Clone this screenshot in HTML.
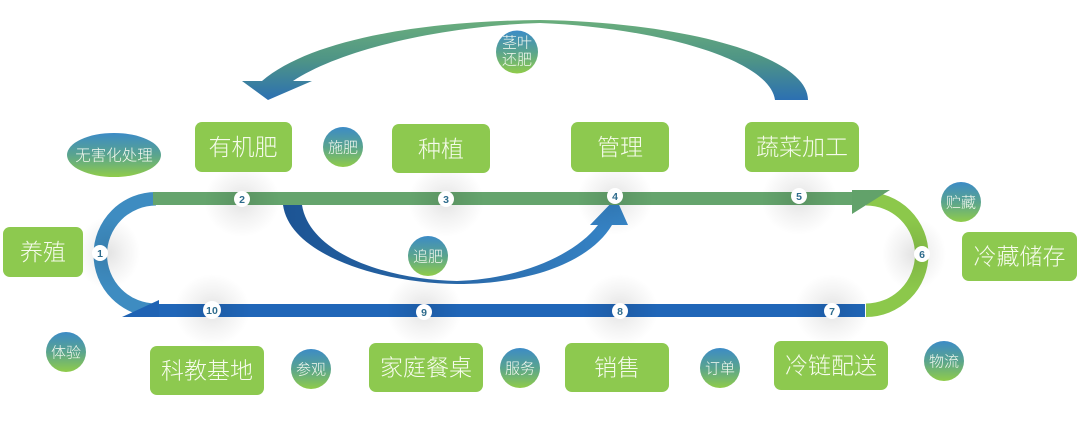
<!DOCTYPE html>
<html>
<head>
<meta charset="utf-8">
<style>
  html,body{margin:0;padding:0;background:#fff;}
  svg{display:block;}
  .bx{fill:#8dc94f;}
  .bt{fill:#f6fbec;font-family:"Liberation Sans","Noto Sans CJK SC",sans-serif;font-size:23px;font-weight:300;}
  .ct{fill:#f4f9f0;font-family:"Liberation Sans","Noto Sans CJK SC",sans-serif;font-size:15px;font-weight:300;}
  .nt{fill:#2d6b8c;font-family:"Liberation Sans",sans-serif;font-size:10.5px;font-weight:bold;}
</style>
</head>
<body>
<svg width="1080" height="439" viewBox="0 0 1080 439" xmlns="http://www.w3.org/2000/svg">
  <defs>
    <linearGradient id="cg" x1="0" y1="0" x2="0" y2="1">
      <stop offset="0" stop-color="#3c8bc6"/>
      <stop offset="0.5" stop-color="#5aa48e"/>
      <stop offset="1" stop-color="#90cc4a"/>
    </linearGradient>
    <linearGradient id="topArc" gradientUnits="userSpaceOnUse" x1="0" y1="20" x2="0" y2="100">
      <stop offset="0" stop-color="#6aae7c"/>
      <stop offset="0.5" stop-color="#4e9486"/>
      <stop offset="1" stop-color="#2c70b2"/>
    </linearGradient>
    <linearGradient id="inArc" gradientUnits="userSpaceOnUse" x1="283" y1="0" x2="628" y2="0">
      <stop offset="0" stop-color="#1c5494"/>
      <stop offset="0.5" stop-color="#2968a8"/>
      <stop offset="1" stop-color="#3786c8"/>
    </linearGradient>
    <radialGradient id="sh">
      <stop offset="0" stop-color="#000" stop-opacity="0.11"/>
      <stop offset="0.5" stop-color="#000" stop-opacity="0.05"/>
      <stop offset="1" stop-color="#000" stop-opacity="0"/>
    </radialGradient>
  </defs>

  <!-- top return arc -->
  <path d="M808,100 C808,55 680,22 540,20 C420,21 310,40 262,81 L242,81 L268,100 L312,81 L293,81 C340,50 440,26 540,23 C660,28 770,60 775,100 Z" fill="url(#topArc)"/>

  <!-- inner arc 追肥 -->
  <path d="M283,205 C290,255 380,283 457,284 C530,284 590,262 612,225 L628,225 L616,198 L590,225 L598,225 C575,255 520,279 457,281 C390,280 310,255 302,205 Z" fill="url(#inArc)"/>

  <!-- left blue arc -->
  <path d="M156,198.75 A55.75,55.75 0 0 0 156,310.25" fill="none" stroke="#3e8cc1" stroke-width="13.5"/>
  <!-- right green arc -->
  <path d="M866,198.75 A55.75,55.75 0 0 1 866,310.25" fill="none" stroke="#8cc84b" stroke-width="13.5"/>

  <!-- top green bar -->
  <rect x="153" y="192" width="700" height="13" fill="#65a46d"/>
  <polygon points="852,190 890,190 852,214" fill="#62a26a"/>

  <!-- bottom blue bar -->
  <rect x="155" y="304" width="710" height="13" fill="#2066b8"/>
  <polygon points="122,317 159,300 159,317" fill="#1f63b4"/>

  <!-- soft shadows -->
  <ellipse cx="242" cy="201" rx="38" ry="36" fill="url(#sh)"/>
  <ellipse cx="446" cy="201" rx="38" ry="36" fill="url(#sh)"/>
  <ellipse cx="615" cy="199" rx="38" ry="36" fill="url(#sh)"/>
  <ellipse cx="799" cy="199" rx="38" ry="36" fill="url(#sh)"/>
  <ellipse cx="212" cy="310" rx="38" ry="36" fill="url(#sh)"/>
  <ellipse cx="424" cy="310" rx="38" ry="36" fill="url(#sh)"/>
  <ellipse cx="620" cy="310" rx="38" ry="36" fill="url(#sh)"/>
  <ellipse cx="832" cy="310" rx="38" ry="36" fill="url(#sh)"/>
  <ellipse cx="108" cy="253" rx="32" ry="36" fill="url(#sh)"/>
  <ellipse cx="914" cy="254" rx="32" ry="36" fill="url(#sh)"/>

  <!-- number circles -->
  <g>
    <circle cx="100" cy="253" r="8" fill="#fff"/><text class="nt" x="100" y="256.8" text-anchor="middle">1</text>
    <circle cx="242" cy="199" r="8" fill="#fff"/><text class="nt" x="242" y="202.8" text-anchor="middle">2</text>
    <circle cx="446" cy="199" r="8" fill="#fff"/><text class="nt" x="446" y="202.8" text-anchor="middle">3</text>
    <circle cx="615" cy="196" r="8" fill="#fff"/><text class="nt" x="615" y="199.8" text-anchor="middle">4</text>
    <circle cx="799" cy="196" r="8" fill="#fff"/><text class="nt" x="799" y="199.8" text-anchor="middle">5</text>
    <circle cx="922" cy="254" r="8" fill="#fff"/><text class="nt" x="922" y="257.8" text-anchor="middle">6</text>
    <circle cx="832" cy="311" r="8" fill="#fff"/><text class="nt" x="832" y="314.8" text-anchor="middle">7</text>
    <circle cx="620" cy="311" r="8" fill="#fff"/><text class="nt" x="620" y="314.8" text-anchor="middle">8</text>
    <circle cx="424" cy="312" r="8" fill="#fff"/><text class="nt" x="424" y="315.8" text-anchor="middle">9</text>
    <circle cx="212" cy="310" r="9" fill="#fff"/><text class="nt" x="212" y="313.8" text-anchor="middle">10</text>
  </g>

  <!-- boxes -->
  <rect class="bx" x="3" y="227" width="80" height="50" rx="7"/>
  <text class="bt" x="43" y="260" text-anchor="middle">养殖</text>

  <rect class="bx" x="195" y="122" width="97" height="50" rx="7"/>
  <text class="bt" x="243" y="155" text-anchor="middle">有机肥</text>

  <rect class="bx" x="392" y="124" width="98" height="49" rx="7"/>
  <text class="bt" x="441" y="157" text-anchor="middle">种植</text>

  <rect class="bx" x="571" y="122" width="98" height="50" rx="7"/>
  <text class="bt" x="620" y="155" text-anchor="middle">管理</text>

  <rect class="bx" x="745" y="122" width="114" height="50" rx="7"/>
  <text class="bt" x="802" y="155" text-anchor="middle">蔬菜加工</text>

  <rect class="bx" x="962" y="232" width="115" height="49" rx="7"/>
  <text class="bt" x="1019.5" y="264.5" text-anchor="middle">冷藏储存</text>

  <rect class="bx" x="774" y="341" width="114" height="49" rx="7"/>
  <text class="bt" x="831" y="373.5" text-anchor="middle">冷链配送</text>

  <rect class="bx" x="565" y="343" width="104" height="49" rx="7"/>
  <text class="bt" x="617" y="375.5" text-anchor="middle">销售</text>

  <rect class="bx" x="369" y="343" width="114" height="49" rx="7"/>
  <text class="bt" x="426" y="375.5" text-anchor="middle">家庭餐桌</text>

  <rect class="bx" x="150" y="346" width="114" height="49" rx="7"/>
  <text class="bt" x="207" y="378.5" text-anchor="middle">科教基地</text>

  <!-- gradient circles -->
  <ellipse cx="114" cy="155" rx="47" ry="22" fill="url(#cg)"/>
  <text class="ct" x="114" y="160.5" text-anchor="middle" style="font-size:15.5px">无害化处理</text>

  <circle cx="343" cy="147" r="20" fill="url(#cg)"/>
  <text class="ct" x="343" y="152.5" text-anchor="middle">施肥</text>

  <ellipse cx="517" cy="52" rx="21" ry="21.5" fill="url(#cg)"/>
  <text class="ct" x="517" y="47.5" text-anchor="middle">茎叶</text>
  <text class="ct" x="517" y="64.5" text-anchor="middle">还肥</text>

  <circle cx="961" cy="202" r="20" fill="url(#cg)"/>
  <text class="ct" x="961" y="207.5" text-anchor="middle">贮藏</text>

  <circle cx="428" cy="256" r="20" fill="url(#cg)"/>
  <text class="ct" x="428" y="261.5" text-anchor="middle">追肥</text>

  <circle cx="66" cy="352" r="20" fill="url(#cg)"/>
  <text class="ct" x="66" y="357.5" text-anchor="middle">体验</text>

  <circle cx="311" cy="369" r="20" fill="url(#cg)"/>
  <text class="ct" x="311" y="374.5" text-anchor="middle">参观</text>

  <circle cx="520" cy="368" r="20" fill="url(#cg)"/>
  <text class="ct" x="520" y="373.5" text-anchor="middle">服务</text>

  <circle cx="720" cy="368" r="20" fill="url(#cg)"/>
  <text class="ct" x="720" y="373.5" text-anchor="middle">订单</text>

  <circle cx="944" cy="361" r="20" fill="url(#cg)"/>
  <text class="ct" x="944" y="366.5" text-anchor="middle">物流</text>
</svg>
</body>
</html>
